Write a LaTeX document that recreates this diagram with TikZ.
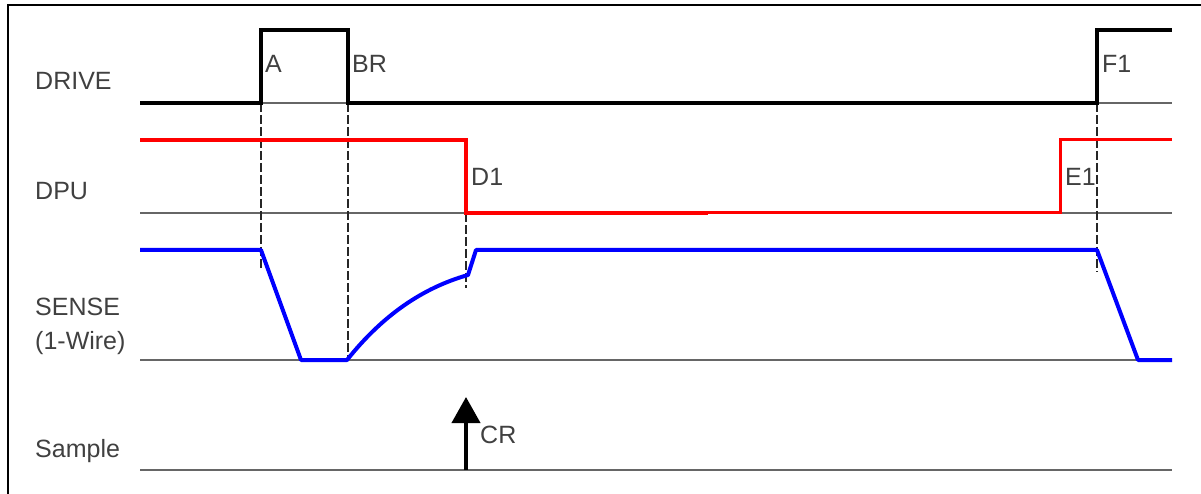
\documentclass[tikz,border=0pt]{standalone}
\usepackage{fontspec}
\setmainfont{Liberation Sans}
\usetikzlibrary{arrows.meta}

\begin{document}
\begin{tikzpicture}[x = 1pt, y = -1pt, font = \fontsize{25}{29}\selectfont]
	\tikzstyle{frameStyle} = [line width = 2pt, black]
	\tikzstyle{baseStyle} = [line width = 2pt, black!60]
	\tikzstyle{driveStyle} = [line width = 4pt, black]
	\tikzstyle{dpuStyle} = [line width = 4pt, red]
	\tikzstyle{senseStyle} = [line width = 4pt, blue]
	\tikzstyle{guideStyle} = [dash pattern = on 9pt off 3pt, line width = 1.5pt, black!85]
	\tikzstyle{labelStyle} = [anchor = base west, text = black!75, inner sep = 0pt]
	\useasboundingbox (0,0) rectangle (1201,494);
	\draw[frameStyle] (8,494) -- (8,5) -- (1201,5);
	% signal names
	\node[labelStyle] (drive) at (35,90) {DRIVE};
	\node[labelStyle] (dpu) at (35,200) {DPU};
	\node[labelStyle] (sense) at (35,315) {SENSE};
	\node[labelStyle] (wire) at (35,349) {(1-Wire)};
	\node[labelStyle] (sample) at (35,457) {Sample};
	% base lines
	\foreach \y in {103, 213, 360, 470}
		\draw[baseStyle] (140,\y) -- (1172,\y);
	% guides
	\coordinate (gA0) at (261,103);  \coordinate (gA1) at (261,268);
	\coordinate (gB0) at (348,103);  \coordinate (gB1) at (348,360);
	\coordinate (gD0) at (466,213);  \coordinate (gD1) at (466,288);
	\coordinate (gF0) at (1097,103); \coordinate (gF1) at (1097,272);
	\draw[guideStyle] (gA0) -- (gA1);
	\draw[guideStyle, line width = 2.5pt] (gB0) -- (gB1);
	\draw[guideStyle] (gD0) -- (gD1);
	\draw[guideStyle, line width = 2.5pt] (gF0) -- (gF1);
	% waveforms
	\draw[driveStyle] (140,103) -- (261,103) -- (261,30) -- (348,30) -- (348,103)
		-- (1097,103) -- (1097,30) -- (1172,30);
	\draw[dpuStyle] (140,140) -- (466,140) -- (466,213) -- (708,213);
	\draw[dpuStyle, line width = 3pt] (708,213) -- (1060,213) -- (1060,140) -- (1172,140);
	\draw[senseStyle, line join = round] (140,250) -- (261,250) -- (301,360) -- (347,360)
		.. controls (382,316) and (422,288) .. (468,275) -- (476,250) -- (1097,250)
		-- (1138,360) -- (1172,360);
	% sample arrow
	\coordinate (cr0) at (466,470);
	\coordinate (cr1) at (466,397);
	\draw[line width = 4pt, -{Triangle[width = 28pt, length = 26pt]}] (cr0) -- (cr1);
	% edge labels
	\node[labelStyle] (a) at (265,73) {A};
	\node[labelStyle] (br) at (352,73) {BR};
	\node[labelStyle] (d1) at (471,186) {D1};
	\node[labelStyle] (e1) at (1065,186) {E1};
	\node[labelStyle] (f1) at (1102,73) {F1};
	\node[labelStyle] (cr) at (480,443) {CR};
\end{tikzpicture}
\end{document}
